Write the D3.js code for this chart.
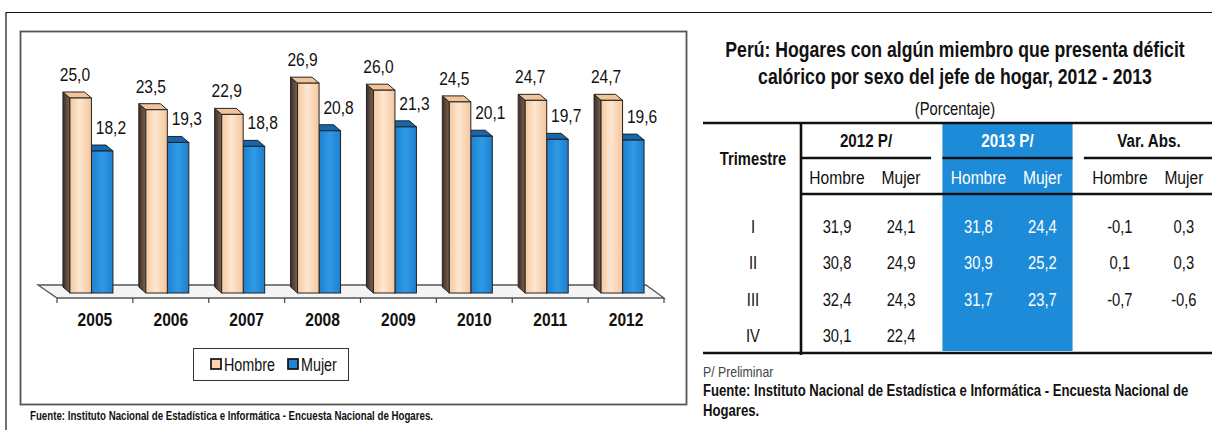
<!DOCTYPE html>
<html>
<head>
<meta charset="utf-8">
<script src="https://cdn.jsdelivr.net/npm/d3@7"></script>
<style>
  body { margin: 0; background: #fff; }
  svg { display: block; }
  text { font-family: 'Liberation Sans', Arial, sans-serif; fill: #111; }
</style>
</head>
<body>
<div id="chart"></div>
<script>
// ---- data ----
const years = ['2005', '2006', '2007', '2008', '2009', '2010', '2011', '2012'];
const series = ['Hombre', 'Mujer'];
const hombre = [25.0, 23.5, 22.9, 26.9, 26.0, 24.5, 24.7, 24.7];
const mujer = [18.2, 19.3, 18.8, 20.8, 21.3, 20.1, 19.7, 19.6];

const trimestres = ['I', 'II', 'III', 'IV'];
const groups = ['2012 P/', '2013 P/', 'Var. Abs.'];
const h2012 = [31.9, 30.8, 32.4, 30.1];
const m2012 = [24.1, 24.9, 24.3, 22.4];
const h2013 = [31.8, 30.9, 31.7, null];
const m2013 = [24.4, 25.2, 23.7, null];
const varH = [-0.1, 0.1, -0.7, null];
const varM = [0.3, 0.3, -0.6, null];

const fmt = v => v == null ? '' : d3.format('.1f')(v).replace('.', ',').replace('−', '-');

const W = 1212, H = 430;
const svg = d3.select('#chart').append('svg').attr('width', W).attr('height', H);

// ---- frames ----
svg.append('path')
    .attr('d', `M6,${H} V12.5 H${W}`)
    .attr('fill', 'none').attr('stroke', '#111').attr('stroke-width', 1.2);
svg.append('rect')
    .attr('x', 20.5).attr('y', 31.5).attr('width', 666).attr('height', 373)
    .attr('fill', '#fff').attr('stroke', '#555').attr('stroke-width', 1.8);

// ---- bar chart ----
const y0 = 293;
const x = d3.scaleBand().domain(years).range([57, 664]);
const xs = d3.scaleBand().domain(series).range([0, 43]);
const y = d3.scaleLinear().domain([0, 30]).range([y0, 59]);
const dx = -7, dy = -6;

const defs = svg.append('defs');
function grad(id, stops) {
    const g = defs.append('linearGradient').attr('id', id).attr('x1', 0).attr('x2', 1).attr('y1', 0).attr('y2', 0);
    stops.forEach(([o, c]) => g.append('stop').attr('offset', o).attr('stop-color', c));
}
grad('gH', [[0, '#f6c9a0'], [0.45, '#fde6d0'], [1, '#f5c69c']]);
grad('gHs', [[0, '#3e2f25'], [1, '#7b6454']]);
grad('gM', [[0, '#1f80cf'], [0.5, '#2f9ae6'], [1, '#1d7fcf']]);
grad('gMs', [[0, '#0f3f72'], [1, '#1b5f9f']]);

const style = {
    Hombre: { front: 'url(#gH)', side: 'url(#gHs)', top: '#f3c39a' },
    Mujer: { front: 'url(#gM)', side: 'url(#gMs)', top: '#1667ad' }
};

// floor
const fx0 = x.range()[0], fx1 = x.range()[1];
svg.append('path')
    .attr('d', `M${fx0},${y0 + 5} L${fx1},${y0 + 5} L${fx1 - 18},${y0 - 8} L${fx0 - 19},${y0 - 8} Z`)
    .attr('fill', '#f4f4f4').attr('stroke', '#555').attr('stroke-width', 1.3);

// boundary ticks on the front edge
svg.append('g').selectAll('line')
    .data(years.map(d => x(d)).concat([fx1]))
    .join('line')
    .attr('x1', d => d).attr('x2', d => d)
    .attr('y1', y0 + 5).attr('y2', y0 + 10)
    .attr('stroke', '#444').attr('stroke-width', 1.2);

const bars = [];
years.forEach((yr, i) => {
    const gx = x(yr) + x.bandwidth() / 2 - 25;
    // Mujer first so the Hombre bar sits in front of its depth faces
    [['Mujer', mujer[i]], ['Hombre', hombre[i]]].forEach(([s, v]) => {
        bars.push({ s, v, x: gx + xs(s), w: xs.bandwidth(), yr });
    });
});

const bar = svg.append('g').selectAll('g').data(bars).join('g');
bar.append('path')
    .attr('d', d => `M${d.x},${y(d.v)} L${d.x + dx},${y(d.v) + dy} L${d.x + dx},${y0 + dy} L${d.x},${y0} Z`)
    .attr('fill', d => style[d.s].side).attr('stroke', '#222').attr('stroke-width', 1);
bar.append('path')
    .attr('d', d => `M${d.x},${y(d.v)} L${d.x + d.w},${y(d.v)} L${d.x + d.w + dx},${y(d.v) + dy} L${d.x + dx},${y(d.v) + dy} Z`)
    .attr('fill', d => style[d.s].top).attr('stroke', '#222').attr('stroke-width', 1);
bar.append('rect')
    .attr('x', d => d.x).attr('y', d => y(d.v))
    .attr('width', d => d.w).attr('height', d => y0 - y(d.v))
    .attr('fill', d => style[d.s].front).attr('stroke', '#222').attr('stroke-width', 1);

// value labels
svg.append('g').selectAll('text')
    .data(bars)
    .join('text')
    .attr('x', d => x(d.yr) + x.bandwidth() / 2 + (d.s === 'Hombre' ? -20 : 16))
    .attr('y', d => y(d.v) - 17)
    .attr('text-anchor', 'middle')
    .attr('font-size', 19)
    .text(d => fmt(d.v));

// category axis
const axis = svg.append('g')
    .attr('transform', `translate(0,${y0 + 8})`)
    .call(d3.axisBottom(x).tickSize(0).tickPadding(12));
axis.select('.domain').remove();
axis.selectAll('text')
    .attr('font-size', 19).attr('font-weight', 'bold')
    .attr('font-family', null).style('fill', '#111');

// legend
const lg = svg.append('g');
lg.append('rect').attr('x', 193.5).attr('y', 348.5).attr('width', 155).attr('height', 32)
    .attr('fill', '#fff').attr('stroke', '#333').attr('stroke-width', 1);
const legendX = d3.scalePoint().domain(series).range([211, 288]);
const li = lg.selectAll('g').data(series).join('g')
    .attr('transform', d => `translate(${legendX(d)},359)`);
li.append('rect').attr('width', 10).attr('height', 10)
    .attr('fill', d => d === 'Hombre' ? '#fcd5b0' : '#1f86d6')
    .attr('stroke', '#111').attr('stroke-width', 1.7);
li.append('text').attr('x', 13).attr('y', 12).attr('font-size', 17.5).text(d => d);

svg.append('text')
    .attr('x', 30).attr('y', 420)
    .attr('font-size', 13).attr('font-weight', 'bold')
    .attr('textLength', 403).attr('lengthAdjust', 'spacingAndGlyphs')
    .text('Fuente: Instituto Nacional de Estadística e Informática - Encuesta Nacional de Hogares.');

// ---- table ----
const cx = 955;
svg.append('text').attr('x', cx).attr('y', 57).attr('text-anchor', 'middle')
    .attr('font-size', 21.5).attr('font-weight', 'bold')
    .text('Perú: Hogares con algún miembro que presenta déficit');
svg.append('text').attr('x', cx).attr('y', 84).attr('text-anchor', 'middle')
    .attr('font-size', 21.5).attr('font-weight', 'bold')
    .text('calórico por sexo del jefe de hogar, 2012 - 2013');
svg.append('text').attr('x', cx).attr('y', 115).attr('text-anchor', 'middle')
    .attr('font-size', 18).text('(Porcentaje)');

const gx = d3.scaleBand().domain(groups).range([801, 1214]).paddingInner(0.08);
const sx = d3.scalePoint().domain(series).range([36, 100]);
const ry = d3.scalePoint().domain(trimestres).range([227, 336]);

const tTop = 123, tSub = 158, tHead = 194, tBot = 353;

svg.append('rect')
    .attr('x', gx('2013 P/')).attr('y', tTop)
    .attr('width', gx.bandwidth()).attr('height', tBot - 2 - tTop)
    .attr('fill', '#1e8bd8');

const lineG = svg.append('g').attr('stroke', '#111').attr('stroke-width', 2.6);
lineG.append('line').attr('x1', 703).attr('x2', W).attr('y1', tTop).attr('y2', tTop);
lineG.append('line').attr('x1', 703).attr('x2', W).attr('y1', tBot).attr('y2', tBot);
lineG.append('line').attr('x1', 801).attr('x2', W).attr('y1', tHead).attr('y2', tHead);
lineG.append('line').attr('x1', 801).attr('x2', 801).attr('y1', tTop).attr('y2', tBot + 2);
lineG.selectAll('line.sub').data(groups).join('line').attr('class', 'sub')
    .attr('x1', d => gx(d)).attr('x2', d => Math.min(W, gx(d) + gx.bandwidth()))
    .attr('y1', tSub).attr('y2', tSub);

const white = d => d === '2013 P/' ? '#fff' : '#111';

svg.append('text').attr('x', 753).attr('y', 165).attr('text-anchor', 'middle')
    .attr('font-size', 18).attr('font-weight', 'bold').text('Trimestre');

svg.append('g').selectAll('text').data(groups).join('text')
    .attr('x', d => gx(d) + gx.bandwidth() / 2).attr('y', 147)
    .attr('text-anchor', 'middle').attr('font-size', 18.5).attr('font-weight', 'bold')
    .style('fill', white).text(d => d);

const subs = groups.flatMap(g => series.map(s => ({ g, s })));
svg.append('g').selectAll('text').data(subs).join('text')
    .attr('x', d => gx(d.g) + sx(d.s)).attr('y', 184)
    .attr('text-anchor', 'middle').attr('font-size', 19)
    .style('fill', d => white(d.g)).text(d => d.s);

svg.append('g').selectAll('text').data(trimestres).join('text')
    .attr('x', 753).attr('y', d => ry(d) + 6)
    .attr('text-anchor', 'middle').attr('font-size', 18).text(d => d);

const cols = [
    { g: '2012 P/', s: 'Hombre', v: h2012 }, { g: '2012 P/', s: 'Mujer', v: m2012 },
    { g: '2013 P/', s: 'Hombre', v: h2013 }, { g: '2013 P/', s: 'Mujer', v: m2013 },
    { g: 'Var. Abs.', s: 'Hombre', v: varH }, { g: 'Var. Abs.', s: 'Mujer', v: varM }
];
const cells = cols.flatMap(c => trimestres.map((t, i) => ({ g: c.g, s: c.s, t, v: c.v[i] })));
svg.append('g').selectAll('text').data(cells).join('text')
    .attr('x', d => gx(d.g) + sx(d.s)).attr('y', d => ry(d.t) + 6)
    .attr('text-anchor', 'middle').attr('font-size', 18)
    .style('fill', d => white(d.g)).text(d => fmt(d.v));

svg.append('text').attr('x', 703).attr('y', 377).attr('font-size', 15)
    .style('fill', '#444').text('P/ Preliminar');
svg.append('text').attr('x', 703).attr('y', 396).attr('font-size', 16).attr('font-weight', 'bold')
    .text('Fuente: Instituto Nacional de Estadística e Informática - Encuesta Nacional de');
svg.append('text').attr('x', 703).attr('y', 416).attr('font-size', 16).attr('font-weight', 'bold')
    .text('Hogares.');

// the source uses a narrow face: squeeze every text horizontally around its anchor
const K = 0.82;
svg.selectAll('text').each(function () {
    if (this.hasAttribute('textLength')) return;
    const ax = +(this.getAttribute('x') || 0);
    d3.select(this).attr('transform', `matrix(${K},0,0,1,${ax * (1 - K)},0)`);
});
</script>
</body>
</html>
